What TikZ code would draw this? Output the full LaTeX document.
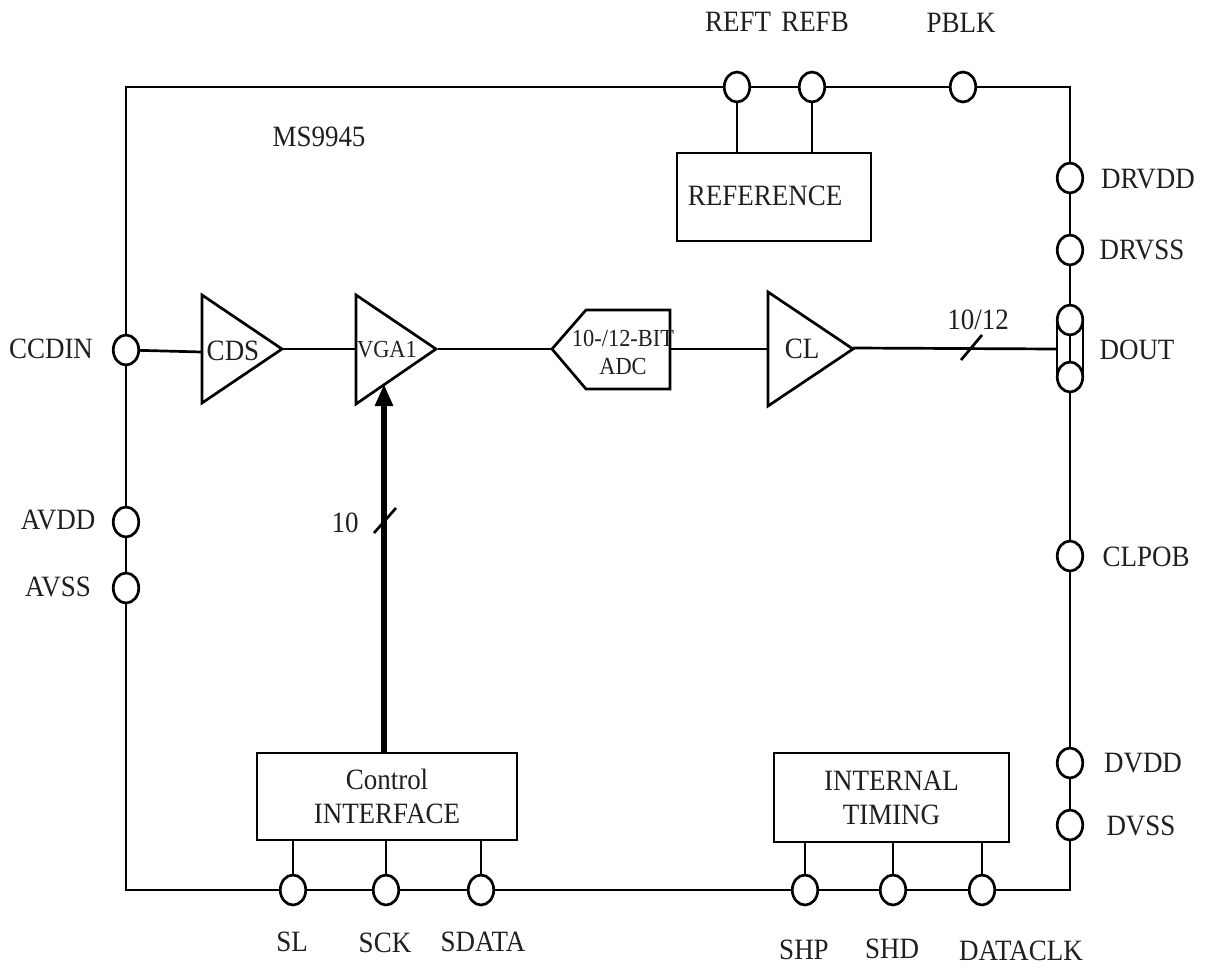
\documentclass[tikz,border=0pt]{standalone}
\usepackage{fontspec}
\setmainfont[FakeStretch=0.915]{Liberation Serif}
\usetikzlibrary{shapes.geometric,backgrounds,arrows.meta}
\tikzset{
  pin/.style={draw,fill=white,ellipse,inner sep=0pt,minimum width=25.5pt,minimum height=30pt,line width=2.7pt},
  blockbox/.style={draw,rectangle,inner sep=0pt,line width=2.7pt,align=center,font=\fontsize{29.5}{34}\selectfont,text=black!88},
  lab/.style={inner sep=0pt,font=\fontsize{29.5}{34}\selectfont,text=black!88},
  small/.style={inner sep=0pt,font=\fontsize{24.5}{28}\selectfont,align=center,text=black!88},
  wire/.style={line width=2.7pt},
  shapeline/.style={line width=2.7pt,line join=miter}
}
\begin{document}
\begin{tikzpicture}[x=1pt,y=-1pt]
\useasboundingbox (0,0) rectangle (1208,969);
% corners
\coordinate (tl) at (126,87);
\coordinate (tr) at (1070,87);
\coordinate (bl) at (126,890);
\coordinate (br) at (1070,890);
% pins
\node[pin] (reft) at (737,87) {};
\node[pin] (refb) at (812,87) {};
\node[pin] (pblk) at (963,87) {};
\node[pin] (drvdd) at (1070,178) {};
\node[pin] (drvss) at (1070,250) {};
\node[pin] (clpob) at (1070,556) {};
\node[pin] (dvdd) at (1070,763) {};
\node[pin] (dvss) at (1070,825) {};
\node[pin] (ccdin) at (126,350) {};
\node[pin] (avdd) at (126,522) {};
\node[pin] (avss) at (126,588) {};
\node[pin] (sl) at (293,890) {};
\node[pin] (sck) at (386,890) {};
\node[pin] (sdata) at (481,890) {};
\node[pin] (shp) at (805,890) {};
\node[pin] (shd) at (893,890) {};
\node[pin] (dclk) at (982,890) {};
\node[pin] (doutt) at (1070,320) {};
\node[pin] (doutb) at (1070,377) {};
\draw[wire] (1057,320) -- (1057,377) (1083,320) -- (1083,377);
\coordinate (doutin) at (1057,349);
% frame behind the pins
\begin{pgfonlayer}{background}
\draw[wire,line join=miter] (tl) -- (tr) -- (br) -- (bl) -- cycle;
\end{pgfonlayer}
% boxes
\node[blockbox,minimum width=194pt,minimum height=88pt] (ref) at (774,197) {};
\node[lab,anchor=center] at (765,196) {REFERENCE};
\node[blockbox,minimum width=260pt,minimum height=87pt] (ctrl) at (387,796.5) {Control\\[0pt]INTERFACE};
\node[blockbox,minimum width=235pt,minimum height=89pt] (tim) at (891.5,797.5) {INTERNAL\\[0pt]TIMING};
% amplifiers
\draw[shapeline] (202,295) -- (282,349) -- (202,403) -- cycle;
\coordinate (cdsin) at (202,352);
\coordinate (cdsout) at (282,349);
\node[lab] at (233,351) {CDS};
\draw[shapeline] (356,295) -- (436,349) -- (356,404) -- cycle;
\coordinate (vgain) at (356,349);
\coordinate (vgaout) at (438,349);
\coordinate (vgactl) at (384,384);
\node[small] at (387,350) {VGA1};
\draw[shapeline] (552,349) -- (586,310) -- (670,310) -- (670,389) -- (586,389) -- cycle;
\coordinate (adcin) at (552,349);
\coordinate (adcout) at (670,349);
\node[small] at (623,352) {10-/12-BIT\\ADC};
\draw[shapeline] (768,292) -- (853,349) -- (768,406) -- cycle;
\coordinate (clin) at (768,349);
\coordinate (clout) at (853,348);
\node[lab] at (802,349) {CL};
% connectors
\draw[wire] (ccdin) -- (cdsin);
\draw[wire] (cdsout) -- (vgain);
\draw[wire] (vgaout) -- (adcin);
\draw[wire] (adcout) -- (clin);
\draw[wire] (clout) -- (doutin);
\draw[line width=6pt,-{Triangle[length=22pt,width=17pt]}] (ctrl.north -| vgactl) -- (vgactl);
\draw[wire] (reft) -- (reft |- ref.north);
\draw[wire] (refb) -- (refb |- ref.north);
\draw[wire] (sl) -- (sl |- ctrl.south);
\draw[wire] (sck) -- (sck |- ctrl.south);
\draw[wire] (sdata) -- (sdata |- ctrl.south);
\draw[wire] (shp) -- (shp |- tim.south);
\draw[wire] (shd) -- (shd |- tim.south);
\draw[wire] (dclk) -- (dclk |- tim.south);
% bus ticks
\draw[wire] (961,360) -- (982,335);
\draw[wire] (374,533) -- (396,508);
% labels
\node[lab] at (978,320) {10/12};
\node[lab] at (345,523) {10};
\node[lab] at (319,137) {MS9945};
\node[lab] at (738,22) {REFT};
\node[lab] at (815,22) {REFB};
\node[lab] at (961,23) {PBLK};
\node[lab] at (1148,179) {DRVDD};
\node[lab] at (1142,250) {DRVSS};
\node[lab] at (1137,350) {DOUT};
\node[lab] at (1146,557) {CLPOB};
\node[lab] at (1143,763) {DVDD};
\node[lab] at (1141,826) {DVSS};
\node[lab] at (51,349) {CCDIN};
\node[lab] at (58,520) {AVDD};
\node[lab] at (58,587) {AVSS};
\node[lab] at (292,942) {SL};
\node[lab] at (385,943) {SCK};
\node[lab] at (483,942) {SDATA};
\node[lab] at (804,950) {SHP};
\node[lab] at (892,949) {SHD};
\node[lab] at (1021,951) {DATACLK};
\end{tikzpicture}
\end{document}
